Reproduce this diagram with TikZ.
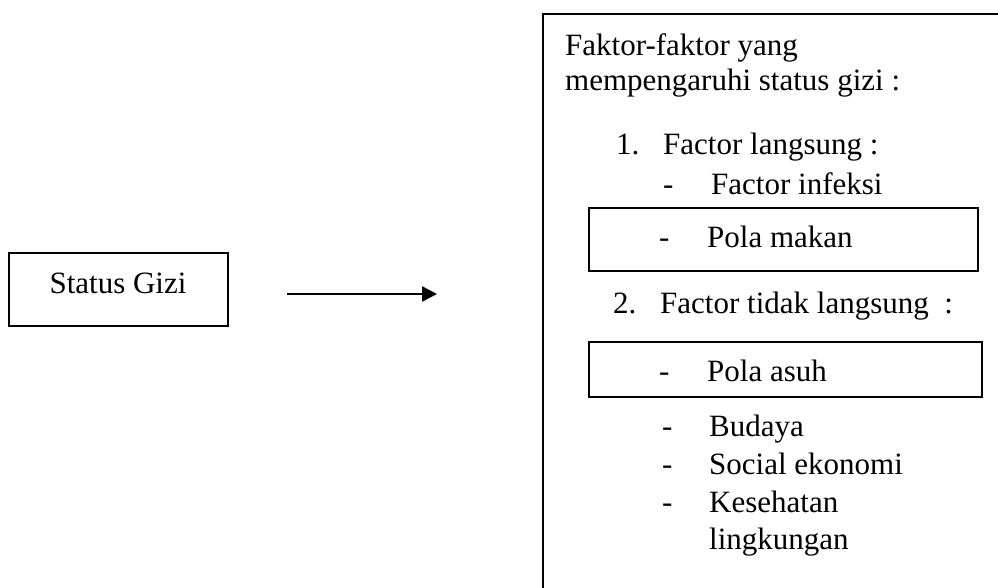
\documentclass[tikz,border=0pt]{standalone}
\usepackage{fontspec}
\setmainfont{Liberation Serif}
\usetikzlibrary{arrows.meta}
\begin{document}
\begin{tikzpicture}[x=1pt,y=-1pt,
  box/.style={draw, line width=2pt, inner sep=0pt},
  txt/.style={anchor=base west, inner sep=0pt, font=\fontsize{31}{36}\selectfont},
]
\useasboundingbox (0,0) rectangle (998,587);
\begin{scope}
\clip (0,0) rectangle (998,587);
\draw[line width=2pt] (543,620) -- (543,14) -- (1010,14);
\end{scope}
% left box
\node[box, minimum width=219pt, minimum height=73pt] (status) at (118.5,289.5) {};
\node[anchor=base, inner sep=0pt, font=\fontsize{31}{36}\selectfont] (statust) at (118,293) {Status Gizi};
% arrow
\coordinate (a1) at (287,294);
\coordinate (a2) at (437,294);
\draw[line width=2.5pt, -{Triangle[length=15pt,width=15pt]}] (a1) -- (a2);
% inner boxes
\node[box, minimum width=389pt, minimum height=63pt] (makanbox) at (783.5,239.5) {};
\node[box, minimum width=393pt, minimum height=55pt] (asuhbox) at (785.5,369.5) {};
% texts
\node[txt] (t1) at (565,55) {Faktor-faktor yang};
\node[txt] (t2) at (565,90) {mempengaruhi status gizi :};
\node[txt] (n1) at (616,154) {1.};
\node[txt] (f1) at (663,154) {Factor langsung :};
\node[txt] (d1) at (663,194) {-};
\node[txt] (i1) at (711,194) {Factor infeksi};
\node[txt] (d2) at (659,247) {-};
\node[txt] (i2) at (707,247) {Pola makan};
\node[txt] (n2) at (613,313) {2.};
\node[txt] (f2) at (660,313) {Factor tidak langsung\ \ :};
\node[txt] (d3) at (659,381) {-};
\node[txt] (i3) at (707,381) {Pola asuh};
\node[txt] (d4) at (662,436) {-};
\node[txt] (i4) at (709,436) {Budaya};
\node[txt] (d5) at (662,474) {-};
\node[txt] (i5) at (709,474) {Social ekonomi};
\node[txt] (d6) at (662,512) {-};
\node[txt] (i6) at (709,512) {Kesehatan};
\node[txt] (i7) at (709,549) {lingkungan};
\end{tikzpicture}
\end{document}
